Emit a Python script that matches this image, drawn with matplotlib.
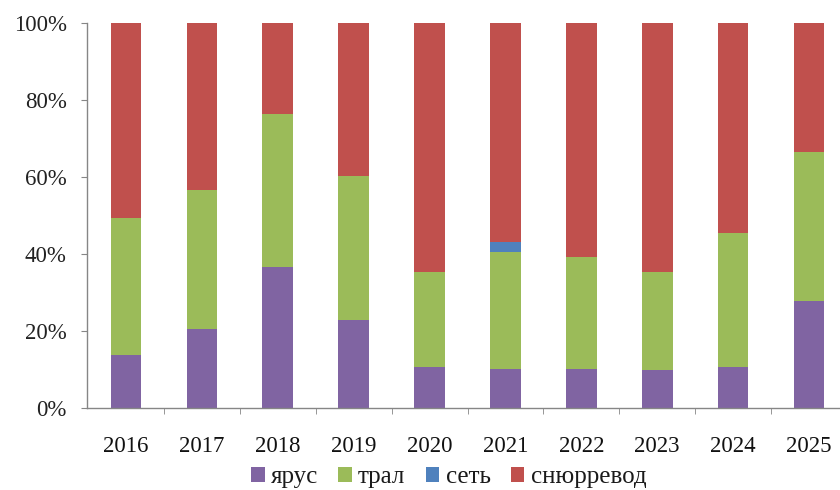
import matplotlib
matplotlib.use("Agg")
import matplotlib.pyplot as plt
import numpy as np
from matplotlib.ticker import FuncFormatter

years = ["2016", "2017", "2018", "2019", "2020", "2021", "2022", "2023", "2024", "2025"]
yarus = [13.9, 20.5, 36.6, 22.9, 10.8, 10.3, 10.3, 9.9, 10.7, 27.9]
tral = [35.5, 36.2, 39.7, 37.3, 24.6, 30.3, 29.0, 25.5, 34.8, 38.7]
set_ = [0.0, 0.0, 0.0, 0.0, 0.0, 2.6, 0.0, 0.0, 0.0, 0.0]
snurrevod = [50.6, 43.3, 23.7, 39.8, 64.6, 56.8, 60.7, 64.6, 54.5, 33.4]

series = [
    ("ярус", yarus, "#8064A2"),
    ("трал", tral, "#9BBB59"),
    ("сеть", set_, "#4F81BD"),
    ("снюрревод", snurrevod, "#C0504D"),
]

plt.rcParams["font.family"] = ["Liberation Serif", "DejaVu Serif"]

fig = plt.figure(figsize=(8.4, 4.9), dpi=100)
ax = fig.add_axes([0.1032, 0.167, 0.8968, 0.786])

x = np.arange(len(years))
bottom = np.zeros(len(years))
handles = []
for name, vals, color in series:
    vals = np.array(vals, dtype=float)
    b = ax.bar(x, vals, width=0.405, bottom=bottom, color=color, label=name, linewidth=0)
    handles.append(b)
    bottom += vals

ax.set_ylim(0, 100)
ax.set_xlim(-0.52, 9.41)
ax.set_yticks([0, 20, 40, 60, 80, 100])
ax.yaxis.set_major_formatter(FuncFormatter(lambda v, p: f"{int(v)}%"))
ax.set_xticks(x)
ax.set_xticklabels(years)
ax.set_xticks(np.arange(0.5, 9, 1.0), minor=True)

for s in ["top", "right"]:
    ax.spines[s].set_visible(False)
for s in ["left", "bottom"]:
    ax.spines[s].set_color("#868686")
    ax.spines[s].set_linewidth(1.0)

ax.tick_params(axis="y", which="major", length=4, color="#868686", labelsize=16.5, labelcolor="#222222", pad=10.5)
ax.tick_params(axis="x", which="major", length=0, labelsize=16.5, labelcolor="#111111", pad=20)
ax.tick_params(axis="x", which="minor", length=4, color="#868686")

leg = fig.legend(handles=handles, labels=[s[0] for s in series], loc="center",
                 bbox_to_anchor=(0.534, 0.026), ncol=4, frameon=False,
                 fontsize=18, handlelength=0.55, handleheight=0.55,
                 handletextpad=0.25, columnspacing=0.8)
for t in leg.get_texts():
    t.set_color("#1a1a1a")

fig.savefig("out.png", dpi=100)
